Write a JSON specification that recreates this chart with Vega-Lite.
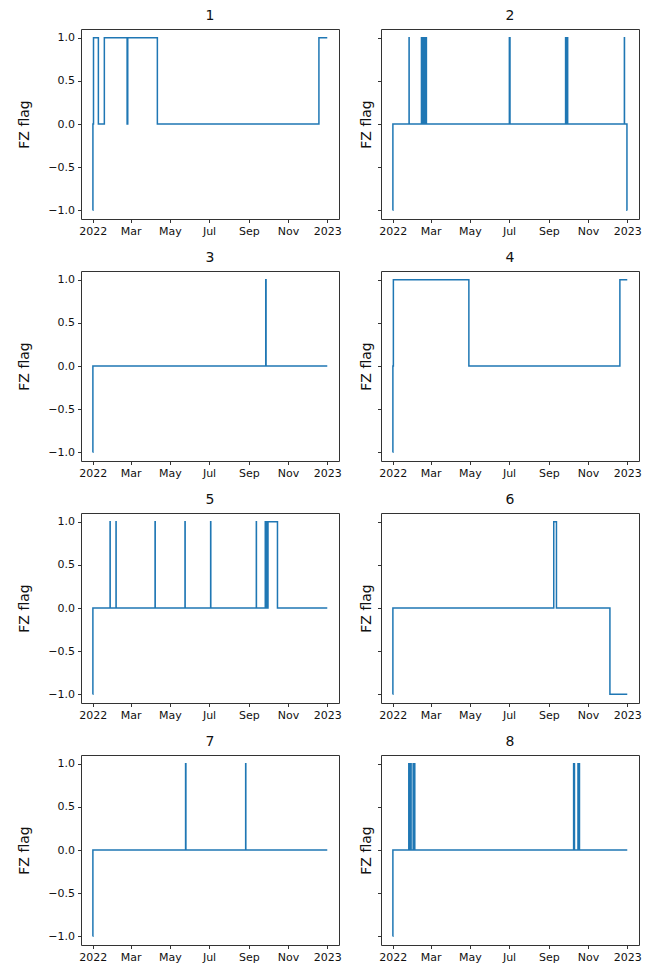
{
  "$schema": "https://vega.github.io/schema/vega-lite/v6.json",
  "background": "white",
  "padding": {"left": 17, "top": 8, "right": 5, "bottom": 5},
  "datasets": {
    "p1": [
      {"t": "2022-01-01T00:00:00Z", "v": -1},
      {"t": "2022-01-01T07:00:00Z", "v": 0},
      {"t": "2022-01-02T05:00:00Z", "v": 1},
      {"t": "2022-01-09T19:00:00Z", "v": 0},
      {"t": "2022-01-19T02:00:00Z", "v": 1},
      {"t": "2022-02-23T12:00:00Z", "v": 0},
      {"t": "2022-02-24T12:00:00Z", "v": 1},
      {"t": "2022-04-11T14:00:00Z", "v": 0},
      {"t": "2022-12-19T00:00:00Z", "v": 1},
      {"t": "2023-01-01T00:00:00Z", "v": 1}
    ],
    "p2": [
      {"t": "2022-01-01T00:00:00Z", "v": -1},
      {"t": "2022-01-01T06:00:00Z", "v": 0},
      {"t": "2022-01-26T10:00:00Z", "v": 1},
      {"t": "2022-01-26T13:00:00Z", "v": 0},
      {"t": "2022-02-14T17:00:00Z", "v": 1},
      {"t": "2022-02-14T20:00:00Z", "v": 0},
      {"t": "2022-02-16T05:00:00Z", "v": 1},
      {"t": "2022-02-16T08:00:00Z", "v": 0},
      {"t": "2022-02-17T19:00:00Z", "v": 1},
      {"t": "2022-02-17T22:00:00Z", "v": 0},
      {"t": "2022-02-19T07:00:00Z", "v": 1},
      {"t": "2022-02-19T10:00:00Z", "v": 0},
      {"t": "2022-02-20T19:00:00Z", "v": 1},
      {"t": "2022-02-20T22:00:00Z", "v": 0},
      {"t": "2022-02-22T07:00:00Z", "v": 1},
      {"t": "2022-02-22T10:00:00Z", "v": 0},
      {"t": "2022-07-01T12:00:00Z", "v": 1},
      {"t": "2022-07-02T12:00:00Z", "v": 0},
      {"t": "2022-09-27T00:00:00Z", "v": 1},
      {"t": "2022-09-27T06:00:00Z", "v": 0},
      {"t": "2022-09-28T12:00:00Z", "v": 1},
      {"t": "2022-09-28T18:00:00Z", "v": 0},
      {"t": "2022-09-30T00:00:00Z", "v": 1},
      {"t": "2022-09-30T06:00:00Z", "v": 0},
      {"t": "2022-12-27T12:00:00Z", "v": 1},
      {"t": "2022-12-27T16:00:00Z", "v": 0},
      {"t": "2022-12-31T12:00:00Z", "v": -1},
      {"t": "2023-01-01T00:00:00Z", "v": -1}
    ],
    "p3": [
      {"t": "2022-01-01T00:00:00Z", "v": -1},
      {"t": "2022-01-01T06:00:00Z", "v": 0},
      {"t": "2022-09-27T06:00:00Z", "v": 1},
      {"t": "2022-09-27T18:00:00Z", "v": 0},
      {"t": "2023-01-01T00:00:00Z", "v": 0}
    ],
    "p4": [
      {"t": "2022-01-01T00:00:00Z", "v": -1},
      {"t": "2022-01-01T06:00:00Z", "v": 0},
      {"t": "2022-01-02T00:00:00Z", "v": 1},
      {"t": "2022-04-29T12:00:00Z", "v": 0},
      {"t": "2022-12-20T12:00:00Z", "v": 1},
      {"t": "2023-01-01T00:00:00Z", "v": 1}
    ],
    "p5": [
      {"t": "2022-01-01T00:00:00Z", "v": -1},
      {"t": "2022-01-01T06:00:00Z", "v": 0},
      {"t": "2022-01-28T00:00:00Z", "v": 1},
      {"t": "2022-01-28T04:00:00Z", "v": 0},
      {"t": "2022-02-06T06:00:00Z", "v": 1},
      {"t": "2022-02-06T10:00:00Z", "v": 0},
      {"t": "2022-04-08T00:00:00Z", "v": 1},
      {"t": "2022-04-08T06:00:00Z", "v": 0},
      {"t": "2022-05-24T14:00:00Z", "v": 1},
      {"t": "2022-05-24T20:00:00Z", "v": 0},
      {"t": "2022-07-03T12:00:00Z", "v": 1},
      {"t": "2022-07-03T18:00:00Z", "v": 0},
      {"t": "2022-09-12T14:00:00Z", "v": 1},
      {"t": "2022-09-12T18:00:00Z", "v": 0},
      {"t": "2022-09-26T12:00:00Z", "v": 1},
      {"t": "2022-09-26T20:00:00Z", "v": 0},
      {"t": "2022-09-28T06:00:00Z", "v": 1},
      {"t": "2022-09-28T14:00:00Z", "v": 0},
      {"t": "2022-09-29T12:00:00Z", "v": 1},
      {"t": "2022-09-29T20:00:00Z", "v": 0},
      {"t": "2022-09-30T18:00:00Z", "v": 1},
      {"t": "2022-10-15T12:00:00Z", "v": 0},
      {"t": "2023-01-01T00:00:00Z", "v": 0}
    ],
    "p6": [
      {"t": "2022-01-01T00:00:00Z", "v": -1},
      {"t": "2022-01-01T06:00:00Z", "v": 0},
      {"t": "2022-09-08T14:00:00Z", "v": 1},
      {"t": "2022-09-12T19:00:00Z", "v": 0},
      {"t": "2022-12-05T00:00:00Z", "v": -1},
      {"t": "2023-01-01T00:00:00Z", "v": -1}
    ],
    "p7": [
      {"t": "2022-01-01T00:00:00Z", "v": -1},
      {"t": "2022-01-01T06:00:00Z", "v": 0},
      {"t": "2022-05-25T12:00:00Z", "v": 1},
      {"t": "2022-05-26T00:00:00Z", "v": 0},
      {"t": "2022-08-27T00:00:00Z", "v": 1},
      {"t": "2022-08-27T06:00:00Z", "v": 0},
      {"t": "2023-01-01T00:00:00Z", "v": 0}
    ],
    "p8": [
      {"t": "2022-01-01T00:00:00Z", "v": -1},
      {"t": "2022-01-01T06:00:00Z", "v": 0},
      {"t": "2022-01-26T00:00:00Z", "v": 1},
      {"t": "2022-01-26T03:00:00Z", "v": 0},
      {"t": "2022-01-27T07:00:00Z", "v": 1},
      {"t": "2022-01-27T10:00:00Z", "v": 0},
      {"t": "2022-01-28T14:00:00Z", "v": 1},
      {"t": "2022-01-28T17:00:00Z", "v": 0},
      {"t": "2022-01-29T12:00:00Z", "v": 1},
      {"t": "2022-01-29T15:00:00Z", "v": 0},
      {"t": "2022-02-01T19:00:00Z", "v": 1},
      {"t": "2022-02-01T22:00:00Z", "v": 0},
      {"t": "2022-02-03T00:00:00Z", "v": 1},
      {"t": "2022-02-03T03:00:00Z", "v": 0},
      {"t": "2022-02-04T05:00:00Z", "v": 1},
      {"t": "2022-02-04T08:00:00Z", "v": 0},
      {"t": "2022-10-09T12:00:00Z", "v": 1},
      {"t": "2022-10-09T15:00:00Z", "v": 0},
      {"t": "2022-10-10T17:00:00Z", "v": 1},
      {"t": "2022-10-10T20:00:00Z", "v": 0},
      {"t": "2022-10-16T07:00:00Z", "v": 1},
      {"t": "2022-10-16T10:00:00Z", "v": 0},
      {"t": "2022-10-17T12:00:00Z", "v": 1},
      {"t": "2022-10-17T15:00:00Z", "v": 0},
      {"t": "2022-10-18T12:00:00Z", "v": 1},
      {"t": "2022-10-18T15:00:00Z", "v": 0},
      {"t": "2023-01-01T00:00:00Z", "v": 0}
    ]
  },
  "columns": 2,
  "spacing": {"row": 52, "column": 42},
  "bounds": "flush",
  "concat": [
    {"title": "1", "width": 258, "height": 190, "data": {"name": "p1"},
     "mark": {"type": "line", "interpolate": "step-after"},
     "encoding": {
       "x": {"field": "t", "type": "temporal", "scale": {"type": "utc", "domain": [{"year": 2021, "month": 12, "date": 13, "hours": 18, "utc": true}, {"year": 2023, "month": 1, "date": 19, "hours": 6, "utc": true}]},
             "axis": {"title": null, "values": [{"year": 2022, "month": 1, "date": 1, "utc": true}, {"year": 2022, "month": 3, "date": 1, "utc": true}, {"year": 2022, "month": 5, "date": 1, "utc": true}, {"year": 2022, "month": 7, "date": 1, "utc": true}, {"year": 2022, "month": 9, "date": 1, "utc": true}, {"year": 2022, "month": 11, "date": 1, "utc": true}, {"year": 2023, "month": 1, "date": 1, "utc": true}],
                      "labelExpr": "utcmonth(datum.value) == 0 ? utcFormat(datum.value, '%Y') : utcFormat(datum.value, '%b')"}},
       "y": {"field": "v", "type": "quantitative", "scale": {"domain": [-1.1, 1.1], "nice": false, "zero": false},
             "axis": {"title": "FZ flag", "values": [-1, -0.5, 0, 0.5, 1], "format": ".1f", "titlePadding": 16}}
     }},
    {"title": "2", "width": 258, "height": 190, "data": {"name": "p2"},
     "mark": {"type": "line", "interpolate": "step-after"},
     "encoding": {
       "x": {"field": "t", "type": "temporal", "scale": {"type": "utc", "domain": [{"year": 2021, "month": 12, "date": 13, "hours": 18, "utc": true}, {"year": 2023, "month": 1, "date": 19, "hours": 6, "utc": true}]},
             "axis": {"title": null, "values": [{"year": 2022, "month": 1, "date": 1, "utc": true}, {"year": 2022, "month": 3, "date": 1, "utc": true}, {"year": 2022, "month": 5, "date": 1, "utc": true}, {"year": 2022, "month": 7, "date": 1, "utc": true}, {"year": 2022, "month": 9, "date": 1, "utc": true}, {"year": 2022, "month": 11, "date": 1, "utc": true}, {"year": 2023, "month": 1, "date": 1, "utc": true}],
                      "labelExpr": "utcmonth(datum.value) == 0 ? utcFormat(datum.value, '%Y') : utcFormat(datum.value, '%b')"}},
       "y": {"field": "v", "type": "quantitative", "scale": {"domain": [-1.1, 1.1], "nice": false, "zero": false},
             "axis": {"title": "FZ flag", "values": [-1, -0.5, 0, 0.5, 1], "labels": false, "titlePadding": 4}}
     }},
    {"title": "3", "width": 258, "height": 190, "data": {"name": "p3"},
     "mark": {"type": "line", "interpolate": "step-after"},
     "encoding": {
       "x": {"field": "t", "type": "temporal", "scale": {"type": "utc", "domain": [{"year": 2021, "month": 12, "date": 13, "hours": 18, "utc": true}, {"year": 2023, "month": 1, "date": 19, "hours": 6, "utc": true}]},
             "axis": {"title": null, "values": [{"year": 2022, "month": 1, "date": 1, "utc": true}, {"year": 2022, "month": 3, "date": 1, "utc": true}, {"year": 2022, "month": 5, "date": 1, "utc": true}, {"year": 2022, "month": 7, "date": 1, "utc": true}, {"year": 2022, "month": 9, "date": 1, "utc": true}, {"year": 2022, "month": 11, "date": 1, "utc": true}, {"year": 2023, "month": 1, "date": 1, "utc": true}],
                      "labelExpr": "utcmonth(datum.value) == 0 ? utcFormat(datum.value, '%Y') : utcFormat(datum.value, '%b')"}},
       "y": {"field": "v", "type": "quantitative", "scale": {"domain": [-1.1, 1.1], "nice": false, "zero": false},
             "axis": {"title": "FZ flag", "values": [-1, -0.5, 0, 0.5, 1], "format": ".1f", "titlePadding": 16}}
     }},
    {"title": "4", "width": 258, "height": 190, "data": {"name": "p4"},
     "mark": {"type": "line", "interpolate": "step-after"},
     "encoding": {
       "x": {"field": "t", "type": "temporal", "scale": {"type": "utc", "domain": [{"year": 2021, "month": 12, "date": 13, "hours": 18, "utc": true}, {"year": 2023, "month": 1, "date": 19, "hours": 6, "utc": true}]},
             "axis": {"title": null, "values": [{"year": 2022, "month": 1, "date": 1, "utc": true}, {"year": 2022, "month": 3, "date": 1, "utc": true}, {"year": 2022, "month": 5, "date": 1, "utc": true}, {"year": 2022, "month": 7, "date": 1, "utc": true}, {"year": 2022, "month": 9, "date": 1, "utc": true}, {"year": 2022, "month": 11, "date": 1, "utc": true}, {"year": 2023, "month": 1, "date": 1, "utc": true}],
                      "labelExpr": "utcmonth(datum.value) == 0 ? utcFormat(datum.value, '%Y') : utcFormat(datum.value, '%b')"}},
       "y": {"field": "v", "type": "quantitative", "scale": {"domain": [-1.1, 1.1], "nice": false, "zero": false},
             "axis": {"title": "FZ flag", "values": [-1, -0.5, 0, 0.5, 1], "labels": false, "titlePadding": 4}}
     }},
    {"title": "5", "width": 258, "height": 190, "data": {"name": "p5"},
     "mark": {"type": "line", "interpolate": "step-after"},
     "encoding": {
       "x": {"field": "t", "type": "temporal", "scale": {"type": "utc", "domain": [{"year": 2021, "month": 12, "date": 13, "hours": 18, "utc": true}, {"year": 2023, "month": 1, "date": 19, "hours": 6, "utc": true}]},
             "axis": {"title": null, "values": [{"year": 2022, "month": 1, "date": 1, "utc": true}, {"year": 2022, "month": 3, "date": 1, "utc": true}, {"year": 2022, "month": 5, "date": 1, "utc": true}, {"year": 2022, "month": 7, "date": 1, "utc": true}, {"year": 2022, "month": 9, "date": 1, "utc": true}, {"year": 2022, "month": 11, "date": 1, "utc": true}, {"year": 2023, "month": 1, "date": 1, "utc": true}],
                      "labelExpr": "utcmonth(datum.value) == 0 ? utcFormat(datum.value, '%Y') : utcFormat(datum.value, '%b')"}},
       "y": {"field": "v", "type": "quantitative", "scale": {"domain": [-1.1, 1.1], "nice": false, "zero": false},
             "axis": {"title": "FZ flag", "values": [-1, -0.5, 0, 0.5, 1], "format": ".1f", "titlePadding": 16}}
     }},
    {"title": "6", "width": 258, "height": 190, "data": {"name": "p6"},
     "mark": {"type": "line", "interpolate": "step-after"},
     "encoding": {
       "x": {"field": "t", "type": "temporal", "scale": {"type": "utc", "domain": [{"year": 2021, "month": 12, "date": 13, "hours": 18, "utc": true}, {"year": 2023, "month": 1, "date": 19, "hours": 6, "utc": true}]},
             "axis": {"title": null, "values": [{"year": 2022, "month": 1, "date": 1, "utc": true}, {"year": 2022, "month": 3, "date": 1, "utc": true}, {"year": 2022, "month": 5, "date": 1, "utc": true}, {"year": 2022, "month": 7, "date": 1, "utc": true}, {"year": 2022, "month": 9, "date": 1, "utc": true}, {"year": 2022, "month": 11, "date": 1, "utc": true}, {"year": 2023, "month": 1, "date": 1, "utc": true}],
                      "labelExpr": "utcmonth(datum.value) == 0 ? utcFormat(datum.value, '%Y') : utcFormat(datum.value, '%b')"}},
       "y": {"field": "v", "type": "quantitative", "scale": {"domain": [-1.1, 1.1], "nice": false, "zero": false},
             "axis": {"title": "FZ flag", "values": [-1, -0.5, 0, 0.5, 1], "labels": false, "titlePadding": 4}}
     }},
    {"title": "7", "width": 258, "height": 190, "data": {"name": "p7"},
     "mark": {"type": "line", "interpolate": "step-after"},
     "encoding": {
       "x": {"field": "t", "type": "temporal", "scale": {"type": "utc", "domain": [{"year": 2021, "month": 12, "date": 13, "hours": 18, "utc": true}, {"year": 2023, "month": 1, "date": 19, "hours": 6, "utc": true}]},
             "axis": {"title": null, "values": [{"year": 2022, "month": 1, "date": 1, "utc": true}, {"year": 2022, "month": 3, "date": 1, "utc": true}, {"year": 2022, "month": 5, "date": 1, "utc": true}, {"year": 2022, "month": 7, "date": 1, "utc": true}, {"year": 2022, "month": 9, "date": 1, "utc": true}, {"year": 2022, "month": 11, "date": 1, "utc": true}, {"year": 2023, "month": 1, "date": 1, "utc": true}],
                      "labelExpr": "utcmonth(datum.value) == 0 ? utcFormat(datum.value, '%Y') : utcFormat(datum.value, '%b')"}},
       "y": {"field": "v", "type": "quantitative", "scale": {"domain": [-1.1, 1.1], "nice": false, "zero": false},
             "axis": {"title": "FZ flag", "values": [-1, -0.5, 0, 0.5, 1], "format": ".1f", "titlePadding": 16}}
     }},
    {"title": "8", "width": 258, "height": 190, "data": {"name": "p8"},
     "mark": {"type": "line", "interpolate": "step-after"},
     "encoding": {
       "x": {"field": "t", "type": "temporal", "scale": {"type": "utc", "domain": [{"year": 2021, "month": 12, "date": 13, "hours": 18, "utc": true}, {"year": 2023, "month": 1, "date": 19, "hours": 6, "utc": true}]},
             "axis": {"title": null, "values": [{"year": 2022, "month": 1, "date": 1, "utc": true}, {"year": 2022, "month": 3, "date": 1, "utc": true}, {"year": 2022, "month": 5, "date": 1, "utc": true}, {"year": 2022, "month": 7, "date": 1, "utc": true}, {"year": 2022, "month": 9, "date": 1, "utc": true}, {"year": 2022, "month": 11, "date": 1, "utc": true}, {"year": 2023, "month": 1, "date": 1, "utc": true}],
                      "labelExpr": "utcmonth(datum.value) == 0 ? utcFormat(datum.value, '%Y') : utcFormat(datum.value, '%b')"}},
       "y": {"field": "v", "type": "quantitative", "scale": {"domain": [-1.1, 1.1], "nice": false, "zero": false},
             "axis": {"title": "FZ flag", "values": [-1, -0.5, 0, 0.5, 1], "labels": false, "titlePadding": 4}}
     }}
  ],
  "config": {
    "font": "DejaVu Sans",
    "view": {"stroke": "#333333", "strokeWidth": 1},
    "axis": {"grid": false, "domain": false, "tickColor": "#333333", "tickSize": 3.5, "tickWidth": 1, "labelFontSize": 11, "labelColor": "#111111", "labelPadding": 3, "labelFlush": false, "labelOverlap": false, "titleFontSize": 14, "titleFontWeight": "normal", "titleColor": "#111111"},
    "title": {"fontSize": 14, "fontWeight": "normal", "color": "#111111", "offset": 6},
    "line": {"color": "#1f77b4", "strokeWidth": 1.5}
  }
}
